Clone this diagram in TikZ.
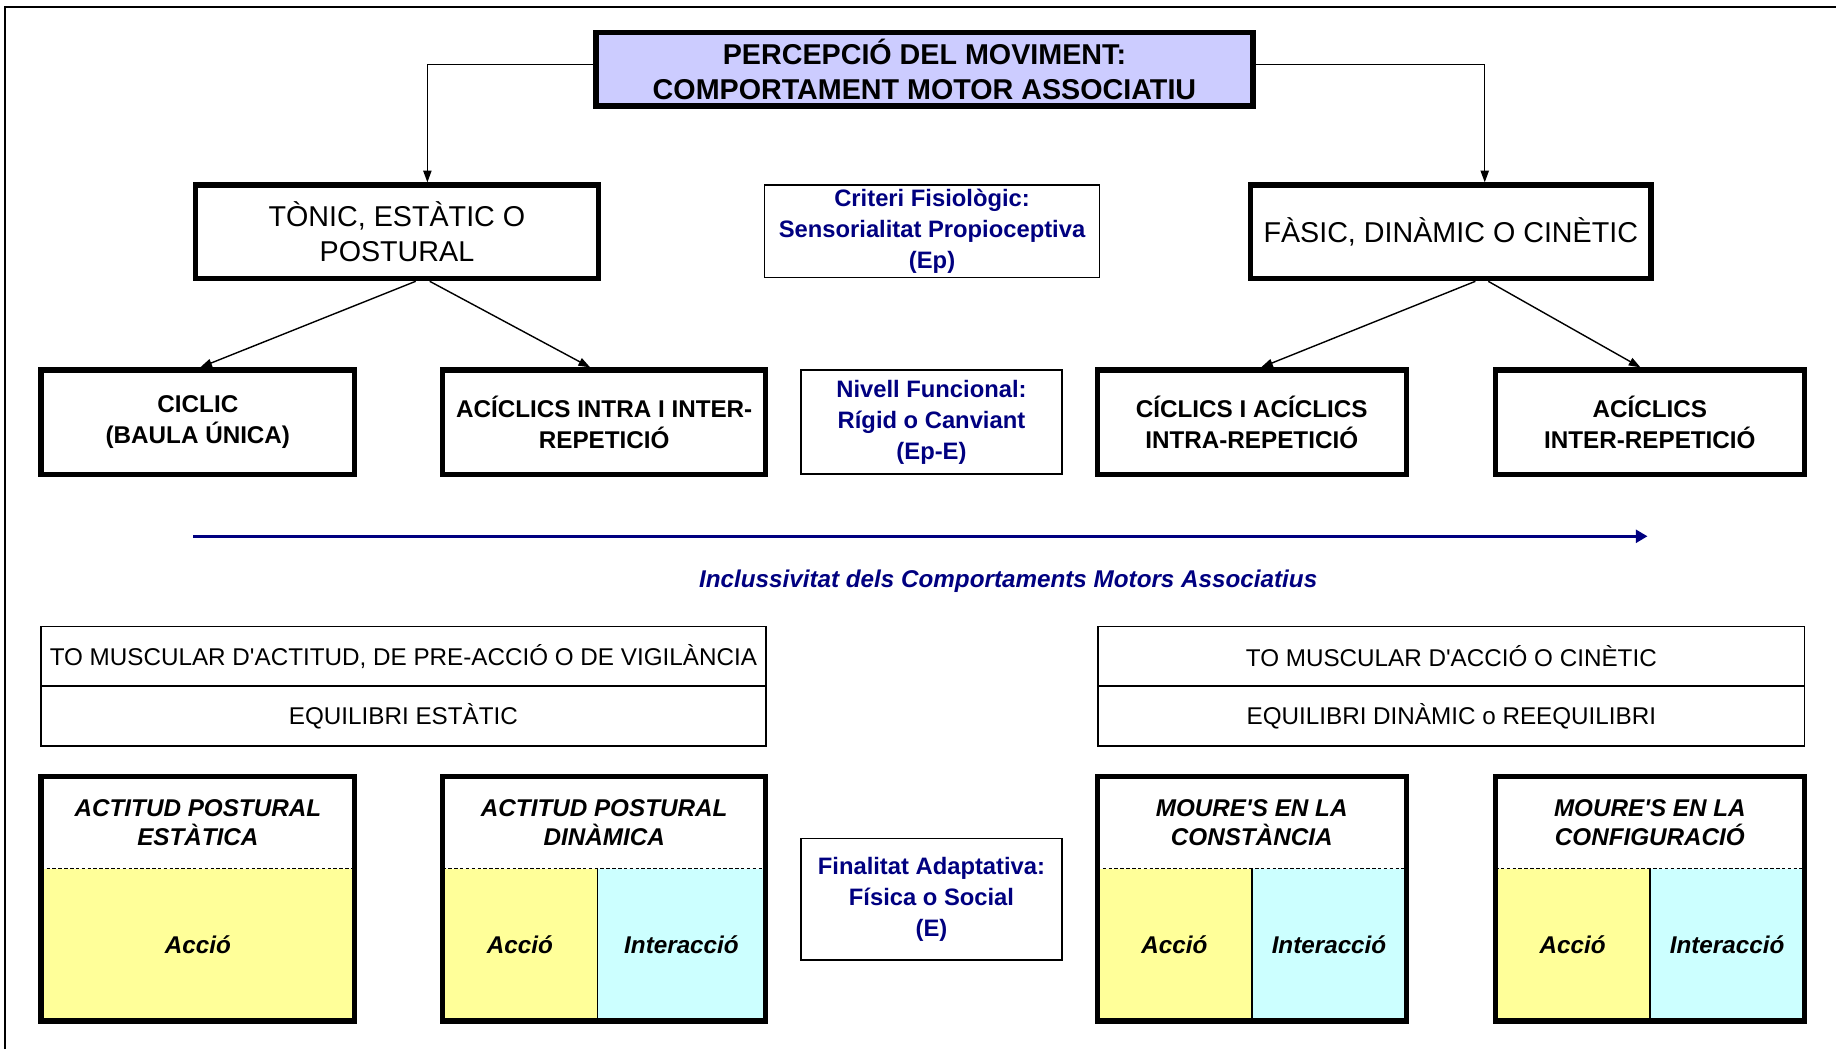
\documentclass[tikz,border=0pt]{standalone}
\usepackage{fontspec}
\setmainfont{Liberation Sans}
\usetikzlibrary{arrows.meta}
\definecolor{titlefill}{HTML}{CCCCFF}
\definecolor{acciofill}{HTML}{FFFF99}
\definecolor{interfill}{HTML}{CCFFFF}
\definecolor{navyblue}{HTML}{000080}
\begin{document}
\begin{tikzpicture}[x=1pt,y=-1pt,
  thickbox/.style={draw, line width=4.5pt, inner sep=0pt, align=center},
  thinbox/.style={draw, line width=1.5pt, inner sep=0pt, align=center},
  bigtext/.style={font=\fontsize{24.5}{29.5}\selectfont},
  boldtext/.style={font=\fontsize{20.7}{26.5}\selectfont\bfseries},
  bluebox/.style={thinbox, text=navyblue, font=\fontsize{20.3}{26.5}\selectfont\bfseries},
  rowbox/.style={thinbox, font=\fontsize{20.7}{25}\selectfont},
  cell/.style={inner sep=0pt, minimum height=130pt, font=\fontsize{20.7}{25}\selectfont\bfseries\itshape},
  head/.style={inner sep=0pt, align=center, font=\fontsize{20.7}{25}\selectfont\bfseries\itshape},
  dashline/.style={line width=1.2pt, dash pattern=on 3pt off 2pt},
  splitline/.style={line width=1pt},
  link/.style={line width=1.2pt, -{Triangle[length=10pt,width=7pt]}}
]
\useasboundingbox (0,0) rectangle (1568,896);
\draw[line width=2pt] (4,896) -- (4,6) -- (1568,6);
\node[thickbox, fill=titlefill, minimum width=561pt, minimum height=63pt, font=\fontsize{24.5}{30}\selectfont\bfseries] (percep) at (789.5,59) {PERCEPCIÓ DEL MOVIMENT:\\COMPORTAMENT MOTOR ASSOCIATIU};
\node[thickbox, bigtext, minimum width=344pt, minimum height=80pt] (tonic) at (339,198) {TÒNIC, ESTÀTIC O\\POSTURAL};
\node[bluebox, minimum width=286pt, minimum height=79pt] (criteri) at (796,197.5) {Criteri Fisiològic:\\Sensorialitat Propioceptiva\\(Ep)};
\node[thickbox, bigtext, minimum width=342pt, minimum height=80pt] (fasic) at (1239,198) {FÀSIC, DINÀMIC O CINÈTIC};
\node[thickbox, boldtext, minimum width=268pt, minimum height=89pt] (ciclic) at (169,360.5) {CICLIC\\(BAULA ÚNICA)};
\node[thickbox, boldtext, minimum width=276pt, minimum height=89pt] (acicl) at (516,360.5) {ACÍCLICS INTRA I INTER-\\REPETICIÓ};
\node[bluebox, minimum width=223pt, minimum height=89pt] (nivell) at (795.5,360.5) {Nivell Funcional:\\Rígid o Canviant\\(Ep-E)};
\node[thickbox, boldtext, minimum width=264pt, minimum height=89pt] (cicacic) at (1069,360.5) {CÍCLICS I ACÍCLICS\\INTRA-REPETICIÓ};
\node[thickbox, boldtext, minimum width=264pt, minimum height=89pt] (aciinter) at (1409,360.5) {ACÍCLICS\\INTER-REPETICIÓ};
\draw[link] ([yshift=4pt]percep.west) -| ([xshift=26pt]tonic.north);
\draw[link] ([yshift=4pt]percep.east) -| ([xshift=29pt]fasic.north);
\draw[link] ([xshift=16pt]tonic.south) -- ([xshift=2pt]ciclic.north);
\draw[link] ([xshift=28pt]tonic.south) -- ([xshift=-12pt]acicl.north);
\draw[link] ([xshift=21pt]fasic.south) -- ([xshift=8pt]cicacic.north);
\draw[link] ([xshift=32pt]fasic.south) -- ([xshift=-8pt]aciinter.north);
\coordinate (incA) at (165,458);
\coordinate (incB) at (1407,458);
\draw[navyblue, line width=3pt, -{Triangle[length=10pt,width=11pt]}] (incA) -- (incB);
\node[text=navyblue, font=\fontsize{20.7}{25}\selectfont\bfseries\itshape] (incl) at (861,496) {Inclussivitat dels Comportaments Motors Associatius};
\node[rowbox, minimum width=619pt, minimum height=51pt] (toL) at (344.5,560.5) {TO MUSCULAR D\textquotesingle ACTITUD, DE PRE-ACCIÓ O DE VIGILÀNCIA};
\node[rowbox, minimum width=619pt, minimum height=51pt] (eqL) at (344.5,611.5) {EQUILIBRI ESTÀTIC};
\node[rowbox, minimum width=603pt, minimum height=51pt] (toR) at (1239.5,560.5) {TO MUSCULAR D\textquotesingle ACCIÓ O CINÈTIC};
\node[rowbox, minimum width=603pt, minimum height=51pt] (eqR) at (1239.5,611.5) {EQUILIBRI DINÀMIC o REEQUILIBRI};
\node[cell, fill=acciofill, minimum width=268pt] (estA) at (169,807) {Acció};
\draw[dashline] (estA.north west) -- (estA.north east);
\node[thickbox, minimum width=268pt, minimum height=209pt] (est) at (169,767.5) {};
\node[head] (estH) at (169,702.5) {ACTITUD POSTURAL\\ESTÀTICA};
\node[cell, fill=acciofill, minimum width=132pt] (dinA) at (444,807) {Acció};
\node[cell, fill=interfill, minimum width=144pt] (dinI) at (582,807) {Interacció};
\draw[splitline] (dinA.north east) -- (dinA.south east);
\draw[dashline] (dinA.north west) -- (dinI.north east);
\node[thickbox, minimum width=276pt, minimum height=209pt] (din) at (516,767.5) {};
\node[head] (dinH) at (516,702.5) {ACTITUD POSTURAL\\DINÀMICA};
\node[bluebox, minimum width=223pt, minimum height=104pt] (final) at (795.5,768) {Finalitat Adaptativa:\\Física o Social\\(E)};
\node[cell, fill=acciofill, minimum width=132pt] (consA) at (1003,807) {Acció};
\node[cell, fill=interfill, minimum width=132pt] (consI) at (1135,807) {Interacció};
\draw[splitline] (consA.north east) -- (consA.south east);
\draw[dashline] (consA.north west) -- (consI.north east);
\node[thickbox, minimum width=264pt, minimum height=209pt] (cons) at (1069,767.5) {};
\node[head] (consH) at (1069,702.5) {MOURE\textquotesingle S EN LA\\CONSTÀNCIA};
\node[cell, fill=acciofill, minimum width=132pt] (confA) at (1343,807) {Acció};
\node[cell, fill=interfill, minimum width=132pt] (confI) at (1475,807) {Interacció};
\draw[splitline] (confA.north east) -- (confA.south east);
\draw[dashline] (confA.north west) -- (confI.north east);
\node[thickbox, minimum width=264pt, minimum height=209pt] (conf) at (1409,767.5) {};
\node[head] (confH) at (1409,702.5) {MOURE\textquotesingle S EN LA\\CONFIGURACIÓ};
\end{tikzpicture}
\end{document}
